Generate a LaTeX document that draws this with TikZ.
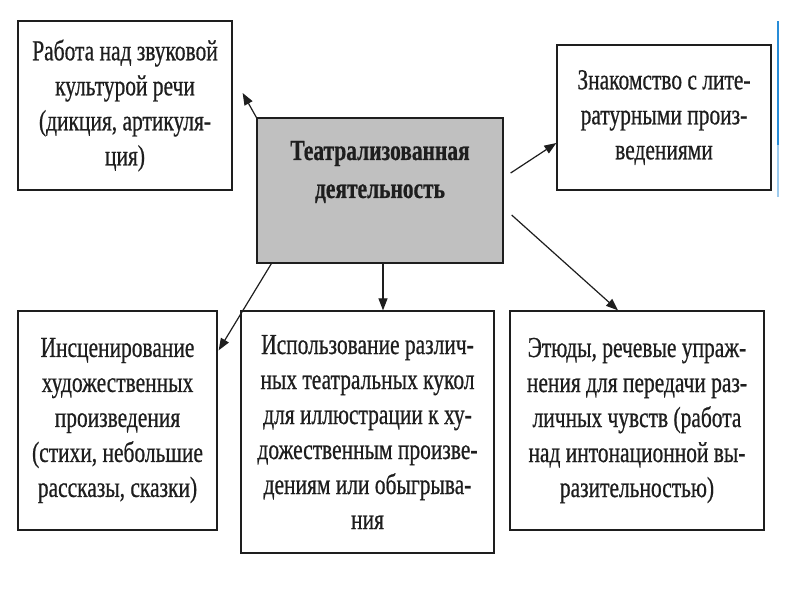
\documentclass[tikz,border=0pt]{standalone}
\usepackage{fontspec}
\setmainfont{Liberation Serif}[FakeStretch=0.74,FakeBold=0.6]
\usetikzlibrary{arrows.meta,calc}
\definecolor{ink}{RGB}{30,30,30}
\definecolor{boxgray}{RGB}{192,192,192}
\definecolor{edgeblue}{RGB}{40,140,215}
\tikzset{
  box/.style={draw=ink, line width=1.3pt, fill=white, text=ink, align=center,
    inner sep=0pt, font=\fontsize{29}{35}\selectfont},
  centerbox/.style={draw=ink, line width=1.3pt, fill=boxgray, inner sep=0pt},
  ctext/.style={text=ink, align=center, inner sep=0pt, font=\fontsize{29}{38}\selectfont\bfseries},
  arr/.style={draw=ink, line width=1.2pt, -{Triangle[length=12pt,width=9pt]}}
}
\begin{document}
\begin{tikzpicture}[x=1pt,y=-1pt]
\useasboundingbox (0,0) rectangle (800,600);
\fill[white] (0,0) rectangle (800,600);
% blue edge line
\draw[edgeblue, line width=2pt] (778,21) -- (778,145);
\draw[edgeblue!45, line width=2pt] (778,145) -- (778,197);

\node[box, minimum width=214, minimum height=169] (A) at (125,105.5)
  {Работа над звуковой\\культурой речи\\(дикция, артикуля-\\ция)};
\node[box, minimum width=214, minimum height=145] (R) at (664,117.5)
  {Знакомство с лите-\\ратурными произ-\\ведениями};
\node[centerbox, minimum width=246, minimum height=145] (C) at (380,190.5) {};
\node[ctext] (Ct) at (380,172) {Театрализованная\\деятельность};
\node[box, minimum width=199, minimum height=219] (BL) at (117.5,420.5)
  {Инсценирование\\художественных\\произведения\\(стихи, небольшие\\рассказы, сказки)};
\node[box, minimum width=253, minimum height=242] (BM) at (367.5,432)
  {Использование различ-\\ных театральных кукол\\для иллюстрации к ху-\\дожественным произве-\\дениям или обыгрыва-\\ния};
\node[box, minimum width=254, minimum height=219] (BR) at (637,420.5)
  {Этюды, речевые упраж-\\нения для передачи раз-\\личных чувств (работа\\над интонационной вы-\\разительностью)};

\coordinate (eA) at ([shift={(10,-12.5)}]A.east);
\coordinate (sR) at ([shift={(7,-17.5)}]C.east);
\coordinate (eR) at ([shift={(0,25.5)}]R.west);
\coordinate (sBR) at ([shift={(8,24.5)}]C.east);
\coordinate (eBR) at ([shift={(-19,0)}]BR.north);
\coordinate (sBM) at ([shift={(3,0)}]C.south);
\coordinate (eBM) at ([shift={(15.5,0)}]BM.north);
\coordinate (sBL) at ([shift={(15,0)}]C.south west);
\coordinate (eBL) at ([shift={(1,40)}]BL.north east);

\draw[arr] (C.north west) -- (eA);
\draw[arr] (sR) -- (eR);
\draw[arr] (sBR) -- (eBR);
\draw[arr] (sBM) -- (eBM);
\draw[arr] (sBL) -- (eBL);
\end{tikzpicture}
\end{document}
